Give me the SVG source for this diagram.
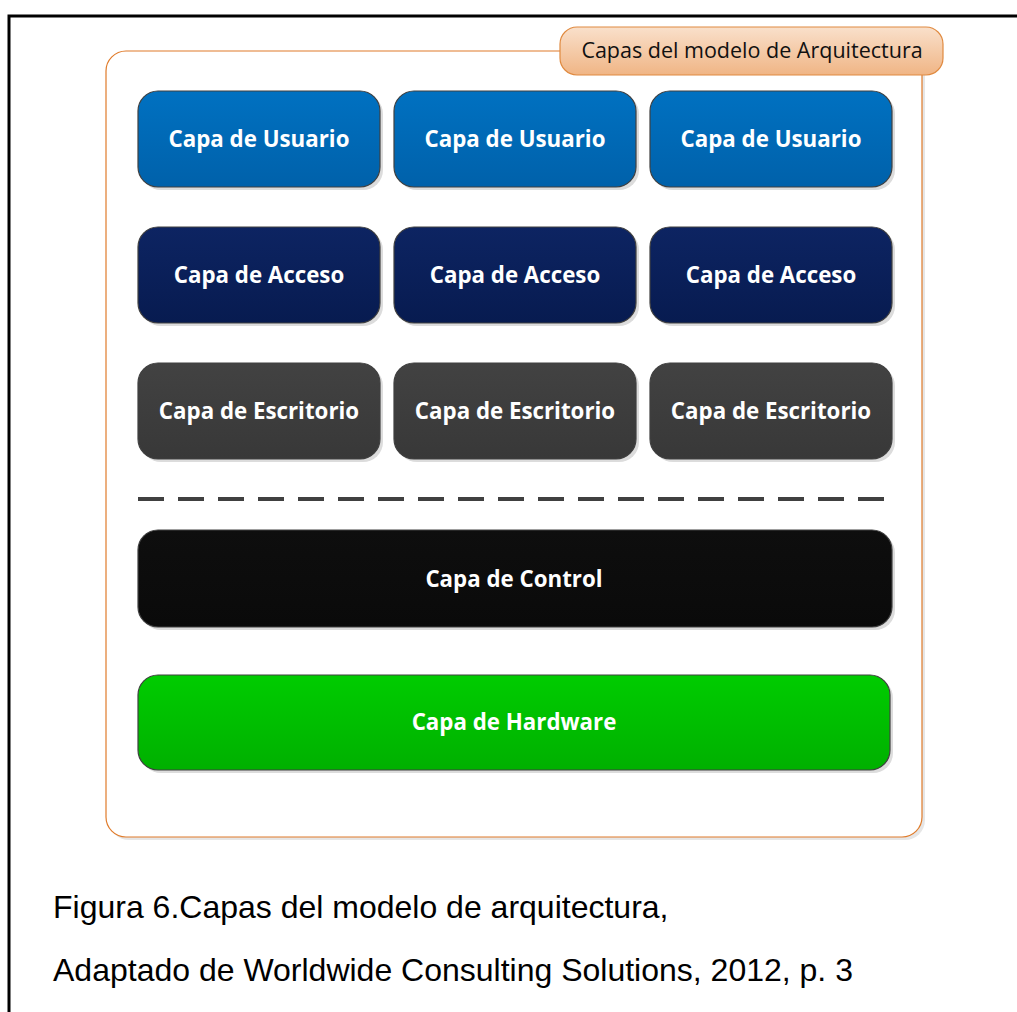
<svg xmlns="http://www.w3.org/2000/svg" width="1017" height="1012" viewBox="0 0 1017 1012">
  <defs>
    <linearGradient id="gUser" x1="0" y1="0" x2="0" y2="1">
      <stop offset="0" stop-color="#0071c1"/>
      <stop offset="1" stop-color="#0061aa"/>
    </linearGradient>
    <linearGradient id="gAccess" x1="0" y1="0" x2="0" y2="1">
      <stop offset="0" stop-color="#0d2462"/>
      <stop offset="1" stop-color="#071b50"/>
    </linearGradient>
    <linearGradient id="gDesk" x1="0" y1="0" x2="0" y2="1">
      <stop offset="0" stop-color="#424242"/>
      <stop offset="1" stop-color="#383838"/>
    </linearGradient>
    <linearGradient id="gCtrl" x1="0" y1="0" x2="0" y2="1">
      <stop offset="0" stop-color="#0e0e0e"/>
      <stop offset="1" stop-color="#0a0a0a"/>
    </linearGradient>
    <linearGradient id="gHw" x1="0" y1="0" x2="0" y2="1">
      <stop offset="0" stop-color="#00cc00"/>
      <stop offset="1" stop-color="#00b000"/>
    </linearGradient>
    <linearGradient id="gTab" x1="0" y1="0" x2="0" y2="1">
      <stop offset="0" stop-color="#f9e0cb"/>
      <stop offset="1" stop-color="#f0b585"/>
    </linearGradient>
  </defs>
  <style>
    .shadow { fill: #dcdcdc; }
    .box { stroke: #404040; stroke-width: 1.2; }
    .lbl { font-family: "Open Sans", "Liberation Sans", sans-serif; font-weight: bold; font-size: 22.3px; fill: #ffffff; text-anchor: middle; }
    .cap { font-family: "Liberation Sans", Arial, sans-serif; font-size: 32px; fill: #000000; }
  </style>

  <rect width="1017" height="1012" fill="#ffffff"/>

  <!-- page frame -->
  <path d="M9,1012 V16 H1017" fill="none" stroke="#000000" stroke-width="3"/>

  <!-- container -->
  <g id="container">
    <rect x="109" y="54" width="816" height="786" rx="20" class="shadow" opacity="0.7"/>
    <rect x="106" y="51" width="816" height="786" rx="20" fill="#ffffff" stroke="#e07b2a" stroke-width="1.2"/>
    <rect x="560" y="27" width="383" height="48" rx="17" fill="url(#gTab)" stroke="#e08a40" stroke-width="1.2"/>
    <text x="752" y="58" text-anchor="middle" font-family="'Open Sans', 'Liberation Sans', sans-serif" font-size="21.5px" fill="#111111">Capas del modelo de Arquitectura</text>
  </g>

  <!-- user layer -->
  <g id="usuario-1">
    <rect x="141" y="94" width="242" height="96" rx="20" class="shadow"/>
    <rect x="138" y="91" width="242" height="96" rx="20" class="box" fill="url(#gUser)"/>
    <text x="259" y="147" class="lbl">Capa de Usuario</text>
  </g>
  <g id="usuario-2">
    <rect x="397" y="94" width="242" height="96" rx="20" class="shadow"/>
    <rect x="394" y="91" width="242" height="96" rx="20" class="box" fill="url(#gUser)"/>
    <text x="515" y="147" class="lbl">Capa de Usuario</text>
  </g>
  <g id="usuario-3">
    <rect x="653" y="94" width="242" height="96" rx="20" class="shadow"/>
    <rect x="650" y="91" width="242" height="96" rx="20" class="box" fill="url(#gUser)"/>
    <text x="771" y="147" class="lbl">Capa de Usuario</text>
  </g>

  <!-- access layer -->
  <g id="acceso-1">
    <rect x="141" y="230" width="242" height="96" rx="20" class="shadow"/>
    <rect x="138" y="227" width="242" height="96" rx="20" class="box" fill="url(#gAccess)"/>
    <text x="259" y="283" class="lbl">Capa de Acceso</text>
  </g>
  <g id="acceso-2">
    <rect x="397" y="230" width="242" height="96" rx="20" class="shadow"/>
    <rect x="394" y="227" width="242" height="96" rx="20" class="box" fill="url(#gAccess)"/>
    <text x="515" y="283" class="lbl">Capa de Acceso</text>
  </g>
  <g id="acceso-3">
    <rect x="653" y="230" width="242" height="96" rx="20" class="shadow"/>
    <rect x="650" y="227" width="242" height="96" rx="20" class="box" fill="url(#gAccess)"/>
    <text x="771" y="283" class="lbl">Capa de Acceso</text>
  </g>

  <!-- desktop layer -->
  <g id="escritorio-1">
    <rect x="141" y="366" width="242" height="96" rx="20" class="shadow"/>
    <rect x="138" y="363" width="242" height="96" rx="20" class="box" fill="url(#gDesk)"/>
    <text x="259" y="419" class="lbl">Capa de Escritorio</text>
  </g>
  <g id="escritorio-2">
    <rect x="397" y="366" width="242" height="96" rx="20" class="shadow"/>
    <rect x="394" y="363" width="242" height="96" rx="20" class="box" fill="url(#gDesk)"/>
    <text x="515" y="419" class="lbl">Capa de Escritorio</text>
  </g>
  <g id="escritorio-3">
    <rect x="653" y="366" width="242" height="96" rx="20" class="shadow"/>
    <rect x="650" y="363" width="242" height="96" rx="20" class="box" fill="url(#gDesk)"/>
    <text x="771" y="419" class="lbl">Capa de Escritorio</text>
  </g>

  <!-- separator -->
  <g id="connectors">
    <line x1="138" y1="499" x2="892" y2="499" stroke="#404040" stroke-width="4" stroke-dasharray="26 14"/>
  </g>

  <!-- control layer -->
  <g id="control">
    <rect x="141" y="533" width="754" height="97" rx="20" class="shadow"/>
    <rect x="138" y="530" width="754" height="97" rx="20" class="box" fill="url(#gCtrl)"/>
    <text x="514" y="587" class="lbl">Capa de Control</text>
  </g>

  <!-- hardware layer -->
  <g id="hardware">
    <rect x="141" y="678" width="752" height="95" rx="20" class="shadow"/>
    <rect x="138" y="675" width="752" height="95" rx="20" class="box" fill="url(#gHw)"/>
    <text x="514" y="730" class="lbl">Capa de Hardware</text>
  </g>

  <!-- caption -->
  <g id="caption">
    <text x="53" y="918" class="cap">Figura 6.Capas del modelo de arquitectura,</text>
    <text x="53" y="981" class="cap">Adaptado de Worldwide Consulting Solutions, 2012, p. 3</text>
  </g>
</svg>
